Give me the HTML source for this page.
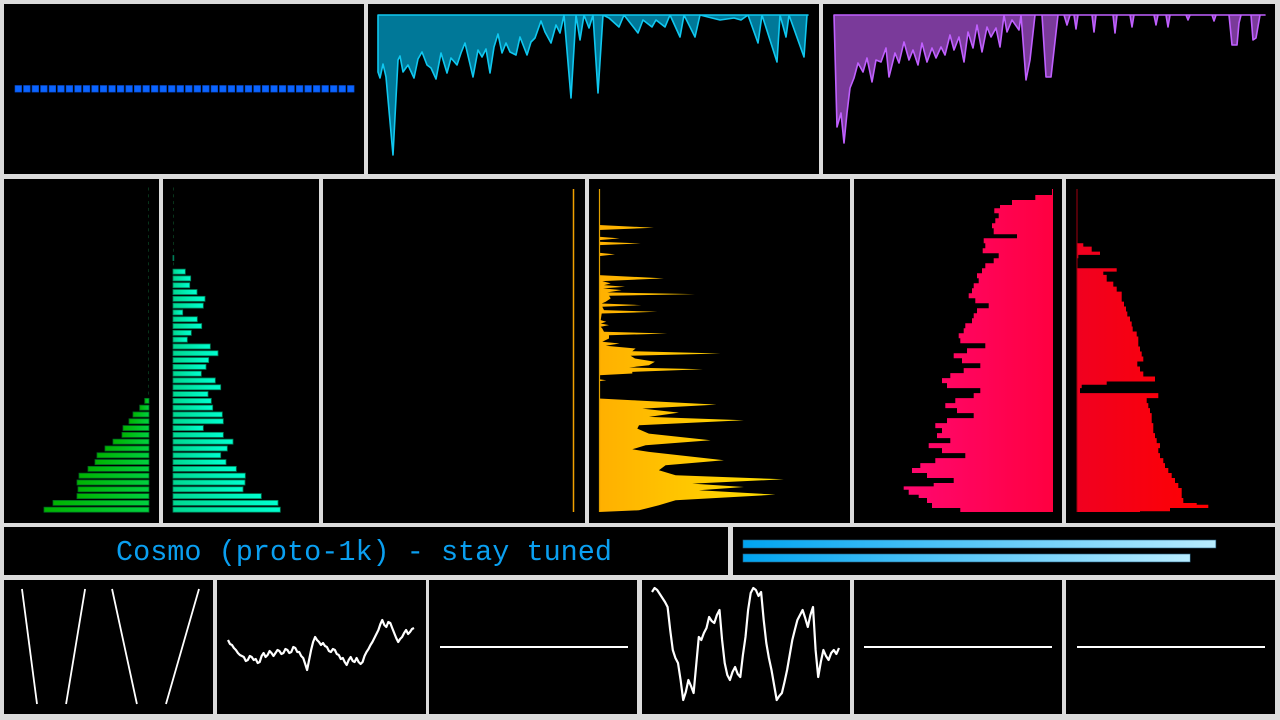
<!DOCTYPE html>
<html><head><meta charset="utf-8"><title>Cosmo dashboard</title>
<style>
html,body{margin:0;padding:0;background:#dcdcdc;width:1280px;height:720px;overflow:hidden}
svg{display:block}
text{font-family:"Liberation Mono",monospace}
</style></head>
<body>
<svg id="dash" width="1280" height="720" viewBox="0 0 1280 720">
<defs>
<linearGradient id="gGreen" x1="0" x2="1"><stop offset="0" stop-color="#00b400"/><stop offset="1" stop-color="#00d040"/></linearGradient>
<linearGradient id="gTeal" x1="0" x2="1"><stop offset="0" stop-color="#00d890"/><stop offset="1" stop-color="#00ffd0"/></linearGradient>
<linearGradient id="gYellow" x1="0" x2="1"><stop offset="0" stop-color="#ffb000"/><stop offset="1" stop-color="#ffe000"/></linearGradient>
<linearGradient id="gPink" x1="0" x2="1"><stop offset="0" stop-color="#ff0870"/><stop offset="1" stop-color="#ff0040"/></linearGradient>
<linearGradient id="gRed" x1="0" x2="1"><stop offset="0" stop-color="#f00020"/><stop offset="1" stop-color="#ff0000"/></linearGradient>
<linearGradient id="gBlue" x1="0" x2="1"><stop offset="0" stop-color="#00a4f0"/><stop offset="1" stop-color="#b8ecff"/></linearGradient>
</defs>
<g id="panels"></g>
<g id="marks"></g>
<text x="364" y="560" text-anchor="middle" font-size="28.5" fill="#0a9ff0">Cosmo (proto-1k) - stay tuned</text>
</svg>
<script>
// ---- data ----
const panelNames = ['dots-panel','cyan-area-panel','purple-area-panel','green-bars-panel','teal-bars-panel','orange-line-panel','yellow-profile-panel','pink-bars-panel','red-bars-panel','title-panel','progress-panel','sawtooth-panel','noise-panel','flat-panel-a','wave-panel','flat-panel-b','flat-panel-c'];
const dotValues = [0.5,0.5,0.5,0.5,0.5,0.5,0.5,0.5,0.5,0.5,0.5,0.5,0.5,0.5,0.5,0.5,0.5,0.5,0.5,0.5,0.5,0.5,0.5,0.5,0.5,0.5,0.5,0.5,0.5,0.5,0.5,0.5,0.5,0.5,0.5,0.5,0.5,0.5,0.5,0.5];
const cyanT = [0,2,5,8,15,20,22,25,30,36,40,44,49,53,58,63,69,73,79,83,87,95,100,104,108,112,116,120,124,128,132,138,142,149,153,157,163,167,173,178,182,186,193,198,202,206,211,215,220,225,231,241,246,260,265,274,278,287,292,302,306,317,322,342,356,363,370,380,384,399,402,408,411,426,429,430];
const cyanV = [57,63,49,62,140,45,41,57,50,63,44,37,50,53,64,38,58,43,50,38,28,62,35,42,34,58,32,19,38,28,37,40,22,40,27,23,6,17,28,10,18,0,83,0,25,0,13,0,78,0,3,12,0,18,5,12,5,12,0,22,0,22,0,5,3,5,0,28,0,47,0,22,0,42,0,0];
const purpleT = [0,3,7,10,13,16,20,24,29,33,38,42,47,52,55,61,65,70,75,79,84,88,93,98,102,107,111,116,120,125,130,134,139,143,148,153,157,162,166,170,173,178,185,187,192,196,201,208,212,217,224,230,233,236,240,242,244,258,260,262,279,281,283,296,298,300,320,322,324,332,334,336,352,354,356,378,380,382,395,398,403,405,407,417,419,422,426,429,431];
const purpleV = [0,112,98,128,98,73,63,48,57,43,67,45,47,33,62,38,48,27,45,35,50,28,47,33,43,32,40,20,35,22,47,17,33,10,37,12,22,13,32,0,17,5,15,0,65,45,0,0,62,62,0,0,10,0,0,14,0,0,17,0,0,18,0,0,12,0,0,10,0,0,12,0,0,5,0,0,6,0,0,30,30,8,0,0,25,23,0,0,0];
const greenV = [0,0,0,0,0,0,0,0,0,0,0,0,0,0,0,0,0,0,0,0,0,0,0,0,0,0,0,0,0,0,0,4.3,9.3,16,20,26,27,36,44,52,54,61,70,72,71,72,96,105];
const tealV = [0,0,0,0,0,0,0,0,0,0,0.7,0,12.3,17.7,16.7,24,32,30.3,9.7,24.3,28.7,18.3,14.3,37.3,45,35.7,33,28.3,42.3,47.7,35,38.3,39.7,49.3,50.3,30.3,50.3,60,54.3,47.7,53,63.3,72.3,72,70,88.3,105,107.3];
const yellowD = [42,150,158,165,185,190,195,200,205,210,233,238,243,300,310,318,325,330,335,340,345,352,357,362,370,380,385,390,395,405,410,415,435,440,445,450,455,460,470,475,480,490,500,505,512,520,528,535,542,550,560,570,577,582,590,595,600,612,615,618,670,675,688,700,712,725,735,750,760,775,795,810,822,830,855,870,885,900,912,925,935,945,958,975,990,1005,1010];
const yellowV = [0,0,165,0,0,62,0,0,125,0,0,48,0,0,195,10,35,15,78,12,68,25,288,30,35,20,8,127,10,15,175,8,5,22,5,30,5,10,15,205,30,30,10,62,20,110,100,365,95,108,168,150,90,312,100,100,0,0,22,0,0,100,353,130,240,150,435,120,115,150,335,140,100,150,375,200,180,230,555,280,435,300,530,230,180,120,0];
const pinkD = [42,58,60,75,90,100,115,130,145,160,178,190,205,220,235,250,265,280,295,310,325,340,355,370,385,400,415,430,445,460,475,490,505,520,535,550,565,580,595,610,625,640,655,670,685,700,715,730,745,760,775,790,805,820,835,850,865,880,895,910,925,935,945,960,970,985,1000,1012];
const pinkV = [1,1,17.7,41,53,58.7,54.3,57.7,61,59.3,36,69.3,67.7,70.3,54.3,59.3,67.7,71,76,74.3,79.3,81,84.3,77.7,64.3,76,79.3,81,87.7,89.3,94.3,92.7,67.7,86,99.3,91,72.7,89.3,102.7,111,106,72.7,79.3,97.7,107.7,96,79.3,106,117.7,111,116,102.7,124.3,111,87.7,117.7,132.7,141,126,99.3,119.3,149.3,144.3,134.3,126,121,92.7,81];
const redD = [42,200,205,215,230,240,250,270,280,290,300,320,335,350,365,380,395,410,425,440,455,470,485,500,515,530,545,560,575,590,605,620,630,640,655,670,685,700,715,730,745,760,775,790,805,820,835,850,865,880,895,910,925,940,955,970,985,990,1000,1010];
const redV = [0,0,6.3,14.7,23,1.3,0,0,39.7,26.3,29.7,36.3,39.7,44.7,44.7,47,49,50.3,53,54.7,55.7,59.7,61.3,61.3,63,64.7,66.3,60.3,63,66.3,78,29.7,4.7,3,81.3,69.7,71.3,73,74.7,74.7,76.3,76.3,78,79.7,83,81.3,83,86.3,88,91.3,94.7,98,101.3,104.7,104.7,106.3,119.7,131.3,93,63];
const progressV = [0.92,0.87];
const sawTop = [0.086,0.388,0.517,0.933];
const sawBottom = [0.158,0.297,0.636,0.775];
const noiseV = [60,56,55,52,50,47,45,44,43,39,40,44,43,40,41,37,38,44,47,43,45,49,47,44,47,50,49,46,47,51,50,47,48,53,52,48,48,44,42,36,30,40,50,58,63,60,58,55,57,54,53,49,48,51,50,46,45,41,42,38,35,40,43,39,38,42,38,36,38,44,48,51,55,58,62,66,70,76,80,75,73,78,77,72,67,62,58,61,63,67,70,66,68,71,72];
const waveV = [108,112,110,106,102,98,93,70,50,42,37,20,0,8,20,14,7,35,63,60,67,72,83,79,77,85,90,60,37,25,20,28,33,26,23,45,63,90,107,112,110,104,108,80,57,42,30,15,0,4,7,18,30,45,60,70,80,85,90,82,73,85,93,50,23,38,50,44,40,47,50,46,52];
const flatV = [0.5,0.5,0.5];

// ---- helpers ----
const NS='http://www.w3.org/2000/svg';
const panelsG=document.getElementById('panels');
const marksG=document.getElementById('marks');
function mk(tag,attrs,parent){const e=document.createElementNS(NS,tag);for(const k in attrs)e.setAttribute(k,attrs[k]);(parent||marksG).appendChild(e);return e;}
function lin(d0,d1,r0,r1){return v=>r0+(v-d0)*(r1-r0)/(d1-d0);}

const panelBoxes=[[4,4,360,170],[368,4,451,170],[823,4,452,170],[4,179,155,344],[163,179,156,344],[323,179,262,344],[589,179,261,344],[854,179,208,344],[1066,179,209,344],[4,527,724,48],[733,527,542,48],[4,580,209,134],[217,580,209,134],[429,580,208,134],[642,580,208,134],[854,580,208,134],[1066,580,209,134]];
panelBoxes.forEach((b,i)=>{
  const r=mk('rect',{x:b[0],y:b[1],width:b[2],height:b[3],fill:'#000'},panelsG);
  
  
});

{const x=lin(0,dotValues.length,15,356), y=lin(0,1,129,49);
dotValues.forEach((v,i)=>{const r=mk('rect',{x:x(i),y:y(v)-3.5,width:6.6,height:6.6,fill:'#0a64ff',stroke:'#0848c8','stroke-width':0.6});

});}

function area(T,V,x0,x1,tMax,stroke,fill,name){
  const x=lin(0,tMax,x0,x1), y=lin(0,140,15,155);
  let d='M'+x(T[0])+','+y(0);
  T.forEach((t,i)=>{d+=' L'+x(t).toFixed(1)+','+y(V[i]).toFixed(1);});
  d+=' L'+x(T[T.length-1])+','+y(0)+' Z';
  const p=mk('path',{d:d,fill:fill,stroke:stroke,'stroke-width':1.6,'stroke-linejoin':'round'});
  
  
}
area(cyanT,cyanV,378,808,430,'#10c8f0','#007898','cyan-area');
area(purpleT,purpleV,834,1265,431,'#c060ff','#7a3a9a','purple-area');

{const y=lin(0,greenV.length,187.5,514);
greenV.forEach((v,i)=>{const w=Math.max(v,0.8);const r=mk('rect',{x:149-w,y:y(i),width:w,height:v>0?5:3,fill:v>0?'url(#gGreen)':'#0a4020',stroke:v>0?'#006a20':'none','stroke-width':0.8});

});
tealV.forEach((v,i)=>{const w=Math.max(v,0.8);const r=mk('rect',{x:173,y:y(i),width:w,height:v>0?5:3,fill:v>0?'url(#gTeal)':'#0a4020',stroke:v>0?'#00805a':'none','stroke-width':0.8});

});}

{const l=mk('line',{x1:573.5,y1:189,x2:573.5,y2:512,stroke:'#f0a000','stroke-width':1.5});

}

{const y=lin(42,1010,189,512), x=lin(0,100,599,632.3);
let d='M599,'+y(yellowD[0]);
yellowD.forEach((dd,i)=>{d+=' L'+x(yellowV[i]).toFixed(1)+','+y(dd).toFixed(1);});
d+=' L599,'+y(yellowD[yellowD.length-1])+' Z';
const p=mk('path',{d:d,fill:'url(#gYellow)'});


const l=mk('line',{x1:599.5,y1:189,x2:599.5,y2:512,stroke:'#e0a000','stroke-width':1.2});

}

function steps(D,V,base,dir,fill,name){
  const y=lin(42,1012,189,512);
  let d='M'+base+','+y(D[0]);
  for(let i=0;i<D.length;i++){const yy=y(D[i]);const nx=i+1<D.length?y(D[i+1]):y(1012);
    d+=' L'+(base+dir*V[i]).toFixed(1)+','+yy.toFixed(1)+' L'+(base+dir*V[i]).toFixed(1)+','+nx.toFixed(1);}
  d+=' L'+base+','+y(1012)+' Z';
  const p=mk('path',{d:d,fill:fill});
  
  
}
steps(pinkD,pinkV,1053,-1,'url(#gPink)','pink-bars');
steps(redD,redV,1077,1,'url(#gRed)','red-bars');
{const l=mk('line',{x1:1077,y1:189,x2:1077,y2:512,stroke:'#a00010','stroke-width':1});

}

{const x=lin(0,1,743,1257);
progressV.forEach((v,i)=>{const r=mk('rect',{x:743,y:540+i*14,width:x(v)-743,height:8,fill:'url(#gBlue)',stroke:'#2a6080','stroke-width':0.6});

});}

{const x=lin(0,1,4,213);
sawTop.forEach((t,i)=>{const l=mk('line',{x1:x(t),y1:589,x2:x(sawBottom[i]),y2:704,stroke:'#fff','stroke-width':1.8});

});}

function poly(V,x0,x1,yf,name){
  const x=lin(0,V.length-1,x0,x1);
  const pts=V.map((v,i)=>x(i).toFixed(1)+','+yf(v).toFixed(1)).join(' ');
  const p=mk('polyline',{points:pts,fill:'none',stroke:'#fff','stroke-width':2.2,'stroke-linejoin':'round'});
  
  
}
poly(noiseV,228,414,lin(0,100,700,600),'noise-line');
poly(waveV,652,839,lin(0,110,700,590),'wave-line');

{const starts=[440,864,1077];
flatV.forEach((v,i)=>{const y=lin(0,1,714,580)(v);const l=mk('line',{x1:starts[i],y1:y,x2:starts[i]+188,y2:y,stroke:'#fff','stroke-width':2});

});}
</script>
</body></html>
